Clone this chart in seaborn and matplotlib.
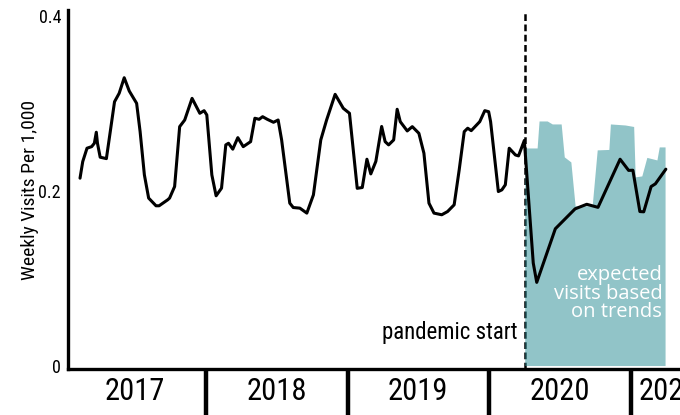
import pandas as pd
import matplotlib
matplotlib.use("Agg")
import matplotlib.pyplot as plt
import matplotlib.dates as mdates
from matplotlib import font_manager
import seaborn as sns

line_dates = [
    "2017-02-10", "2017-02-17", "2017-02-28", "2017-03-12", "2017-03-19", "2017-03-24", "2017-03-27",
    "2017-04-03", "2017-04-19", "2017-04-29", "2017-05-10", "2017-05-22", "2017-06-04", "2017-06-17",
    "2017-07-06", "2017-07-15", "2017-07-26", "2017-08-06", "2017-08-25", "2017-09-02", "2017-09-24",
    "2017-09-29", "2017-10-12", "2017-10-25", "2017-11-07", "2017-11-26", "2017-12-16", "2017-12-27",
    "2018-01-03", "2018-01-16", "2018-01-27", "2018-02-10", "2018-02-21", "2018-02-28", "2018-03-11",
    "2018-03-24", "2018-04-07", "2018-04-26", "2018-05-07", "2018-05-18", "2018-05-27", "2018-06-08",
    "2018-06-24", "2018-07-06", "2018-07-15", "2018-08-05", "2018-08-14", "2018-08-31", "2018-09-18",
    "2018-10-05", "2018-10-24", "2018-11-08", "2018-11-30", "2018-12-21",
    "2019-01-06", "2019-01-26", "2019-02-08", "2019-02-20", "2019-03-02", "2019-03-15", "2019-03-30",
    "2019-04-08", "2019-04-17", "2019-04-30", "2019-05-09", "2019-05-17", "2019-06-04", "2019-06-17",
    "2019-07-04", "2019-07-17", "2019-07-30", "2019-08-12", "2019-09-01", "2019-09-16", "2019-10-03",
    "2019-10-16", "2019-10-29", "2019-11-07", "2019-11-16", "2019-12-08", "2019-12-21", "2019-12-31",
    "2020-01-05", "2020-01-25", "2020-02-03", "2020-02-12", "2020-02-22", "2020-03-09", "2020-03-17",
    "2020-04-01", "2020-04-24", "2020-05-03", "2020-06-20", "2020-08-10", "2020-09-09", "2020-10-08",
    "2020-12-04", "2020-12-26",
    "2021-01-06", "2021-01-24", "2021-02-03", "2021-02-22", "2021-03-05", "2021-04-01",
]
line_vals = [
    0.2145, 0.2335, 0.2488, 0.2506, 0.2545, 0.2671, 0.2545,
    0.2385, 0.2369, 0.2678, 0.302, 0.3117, 0.3295, 0.3143,
    0.3002, 0.2678, 0.2183, 0.1917, 0.1829, 0.1829, 0.1897,
    0.1917, 0.2049, 0.2735, 0.2811, 0.3059, 0.2888, 0.2918,
    0.2869, 0.2183, 0.1943, 0.2031, 0.2526, 0.2545, 0.2477,
    0.2609, 0.2506, 0.2563, 0.2831, 0.2819, 0.2849, 0.2819,
    0.2785, 0.2811, 0.2583, 0.1859, 0.1809, 0.1802, 0.1745,
    0.1954, 0.2583, 0.2811, 0.3105, 0.2945,
    0.2888, 0.2029, 0.2038, 0.2362, 0.2194, 0.2337, 0.2737,
    0.2563, 0.2526, 0.2583, 0.2934, 0.2792, 0.2686, 0.2735,
    0.2659, 0.2431, 0.1859, 0.1745, 0.1726, 0.1763, 0.184,
    0.224, 0.2678, 0.2717, 0.2689, 0.2792, 0.2918, 0.2906,
    0.2792, 0.1992, 0.2011, 0.2069, 0.2488, 0.2411, 0.24,
    0.2577, 0.1174, 0.0952, 0.1566, 0.1794, 0.1846, 0.1811,
    0.2362, 0.2234,
    0.2236, 0.1763, 0.176, 0.2049, 0.208, 0.2248,
]

# expected visits based on trends (teal area)
exp_dates = [
    "2020-04-02", "2020-05-04", "2020-05-09", "2020-05-30", "2020-06-12", "2020-07-05", "2020-07-13",
    "2020-07-30", "2020-08-10", "2020-09-23", "2020-10-06", "2020-11-05", "2020-11-09", "2020-12-17",
    "2021-01-08", "2021-01-12", "2021-01-29", "2021-02-11", "2021-03-09", "2021-03-15", "2021-03-30",
]
exp_vals = [
    0.2491, 0.2491, 0.28, 0.28, 0.2766, 0.2766, 0.2389,
    0.2331, 0.1829, 0.1829, 0.2469, 0.2474, 0.2766, 0.2754,
    0.2737, 0.216, 0.2171, 0.2383, 0.2354, 0.2503, 0.2503,
]

pandemic_date = "2020-04-02"
year_labels = ["2017", "2018", "2019", "2020", "2021"]
year_label_dates = ["2017-07-02", "2018-07-02", "2019-07-02", "2020-07-02", "2021-04-08"]
year_breaks = ["2018-01-01", "2019-01-01", "2020-01-01", "2021-01-01"]
y_ticks = [0, 0.2, 0.4]
y_tick_labels = ["0", "0.2", "0.4"]


def pick_font(names):
    have = {f.name for f in font_manager.fontManager.ttflist}
    for n in names:
        if n in have:
            return n
    return "DejaVu Sans"


sns.set_style("white")
narrow = pick_font(["Liberation Sans Narrow", "Roboto Condensed", "Open Sans Condensed",
                    "Noto Sans Condensed", "DejaVu Sans Condensed", "DejaVu Sans"])
soft = pick_font(["Open Sans", "Noto Sans", "DejaVu Sans"])
plt.rcParams["font.family"] = [narrow, "DejaVu Sans"]
plt.rcParams["font.stretch"] = "condensed"
plt.rcParams["text.color"] = "black"
plt.rcParams["axes.labelcolor"] = "black"
plt.rcParams["xtick.color"] = "black"
plt.rcParams["ytick.color"] = "black"

df = pd.DataFrame({"date": pd.to_datetime(line_dates), "visits": line_vals})
exp_df = pd.DataFrame({"date": pd.to_datetime(exp_dates), "expected": exp_vals})
pandemic = pd.Timestamp(pandemic_date)

fig = plt.figure(figsize=(6.8, 4.15), dpi=100)
ax = fig.add_axes([0.1, 0.1108, 0.959, 0.865])

ax.axvline(pandemic, ymin=0, ymax=0.995, color="black", lw=1.8,
           linestyle=(0, (2.7, 1.4)), zorder=1)
ax.fill_between(exp_df["date"], 0, exp_df["expected"], color="#37949B",
                alpha=0.55, lw=0, zorder=2)
sns.lineplot(data=df, x="date", y="visits", ax=ax, color="black", lw=2.2, zorder=3)

ax.set_xlim(pd.Timestamp("2017-01-10"), pd.Timestamp("2021-08-19"))
ax.set_ylim(-0.004, 0.407)

ax.set_yticks(y_ticks)
ax.set_yticklabels(y_tick_labels, fontsize=13)
ax.tick_params(axis="y", length=0, pad=5)

ax.set_xticks(mdates.date2num(pd.to_datetime(year_label_dates)))
ax.set_xticklabels(year_labels, fontsize=22)
ax.set_xticks(mdates.date2num(pd.to_datetime(year_breaks)), minor=True)
ax.tick_params(axis="x", which="major", bottom=True, length=0, pad=6)
ax.tick_params(axis="x", which="minor", bottom=True, length=36, width=3.2,
               color="black", direction="out")

ax.set_xlabel("")
ax.set_ylabel("Weekly Visits Per 1,000", fontsize=14)
ax.yaxis.set_label_coords(-0.044, 0.5)

for side in ["top", "right"]:
    ax.spines[side].set_visible(False)
for side in ["left", "bottom"]:
    ax.spines[side].set_color("black")
    ax.spines[side].set_linewidth(2.4)

ax.annotate("pandemic start", xy=(pandemic, 0.03), xytext=(-5, 0),
            textcoords="offset points", ha="right", va="baseline", fontsize=16.5)
ax.annotate("expected\nvisits based\non trends", xy=(exp_df["date"].iloc[-1], 0.082),
            xytext=(-2, 0), textcoords="offset points", ha="right", va="center",
            fontsize=14.5, color="white", family=[soft, "DejaVu Sans"],
            stretch="normal", linespacing=0.9)

fig.savefig("out.png", dpi=100)
